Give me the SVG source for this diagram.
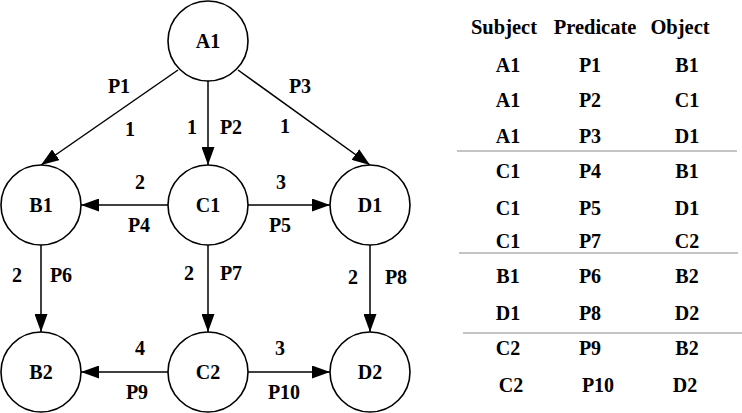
<svg xmlns="http://www.w3.org/2000/svg" width="742" height="413" viewBox="0 0 742 413">
<defs>
<marker id="arr" markerWidth="18" markerHeight="13" refX="18" refY="6.5" orient="auto" markerUnits="userSpaceOnUse">
<path d="M0,0 L18,6.5 L0,13 Z" fill="#000"/>
</marker>
<style>
.n circle{fill:#fff;stroke:#000;stroke-width:1.6}
text{font-family:"Liberation Serif","Times New Roman",serif;font-weight:bold;font-size:20px;fill:#000;text-anchor:middle}
.e line{stroke:#000;stroke-width:1.5;marker-end:url(#arr)}
.sep{stroke:#8a8a8a;stroke-width:1.2}
.h{font-size:20.5px}
</style>
</defs>
<rect width="742" height="413" fill="#fff"/>
<g id="connectors" class="e">
<line x1="178" y1="70" x2="41" y2="165"/>
<line x1="208" y1="81" x2="208" y2="165"/>
<line x1="238" y1="70" x2="370" y2="165"/>
<line x1="168" y1="205" x2="81" y2="205"/>
<line x1="248" y1="205" x2="330" y2="205"/>
<line x1="41" y1="245" x2="41" y2="332"/>
<line x1="208" y1="245" x2="208" y2="332"/>
<line x1="370" y1="245" x2="370" y2="332"/>
<line x1="168" y1="372" x2="81" y2="372"/>
<line x1="248" y1="372" x2="330" y2="372"/>
</g>
<g id="A1" class="n"><circle cx="208" cy="41" r="40"/><text x="208" y="48">A1</text></g>
<g id="B1" class="n"><circle cx="41" cy="205" r="40"/><text x="41" y="212">B1</text></g>
<g id="C1" class="n"><circle cx="208" cy="205" r="40"/><text x="208" y="212">C1</text></g>
<g id="D1" class="n"><circle cx="370" cy="205" r="40"/><text x="370" y="212">D1</text></g>
<g id="B2" class="n"><circle cx="41" cy="372" r="40"/><text x="41" y="379">B2</text></g>
<g id="C2" class="n"><circle cx="208" cy="372" r="40"/><text x="208" y="379">C2</text></g>
<g id="D2" class="n"><circle cx="370" cy="372" r="40"/><text x="370" y="379">D2</text></g>
<g id="edge-labels">
<text x="119" y="93">P1</text>
<text x="130" y="136">1</text>
<text x="192" y="134">1</text>
<text x="231" y="134">P2</text>
<text x="300" y="93">P3</text>
<text x="285" y="133">1</text>
<text x="140" y="189">2</text>
<text x="281" y="189">3</text>
<text x="139" y="232">P4</text>
<text x="280" y="232">P5</text>
<text x="17" y="282">2</text>
<text x="61" y="282">P6</text>
<text x="189" y="280">2</text>
<text x="231" y="280">P7</text>
<text x="353" y="284">2</text>
<text x="396" y="284">P8</text>
<text x="140" y="355">4</text>
<text x="280" y="355">3</text>
<text x="137" y="399">P9</text>
<text x="284" y="399">P10</text>
</g>
<g id="table">
<text class="h" x="504" y="34">Subject</text>
<text class="h" x="595" y="34">Predicate</text>
<text class="h" x="680" y="34">Object</text>
<text x="508" y="72">A1</text><text x="590" y="72">P1</text><text x="687" y="72">B1</text>
<text x="508" y="107">A1</text><text x="590" y="107">P2</text><text x="687" y="107">C1</text>
<text x="508" y="143">A1</text><text x="590" y="143">P3</text><text x="687" y="143">D1</text>
<line class="sep" x1="457" y1="151" x2="737" y2="151"/>
<text x="508" y="178">C1</text><text x="590" y="178">P4</text><text x="687" y="178">B1</text>
<text x="508" y="215">C1</text><text x="590" y="215">P5</text><text x="687" y="215">D1</text>
<text x="508" y="248">C1</text><text x="590" y="248">P7</text><text x="687" y="248">C2</text>
<line class="sep" x1="459" y1="253" x2="738" y2="253"/>
<text x="508" y="283">B1</text><text x="590" y="283">P6</text><text x="687" y="283">B2</text>
<text x="508" y="320">D1</text><text x="590" y="320">P8</text><text x="687" y="320">D2</text>
<line class="sep" x1="463" y1="333" x2="742" y2="333"/>
<text x="508" y="355">C2</text><text x="590" y="355">P9</text><text x="687" y="355">B2</text>
<text x="511" y="392">C2</text><text x="598" y="392">P10</text><text x="685" y="392">D2</text>
</g>
</svg>
